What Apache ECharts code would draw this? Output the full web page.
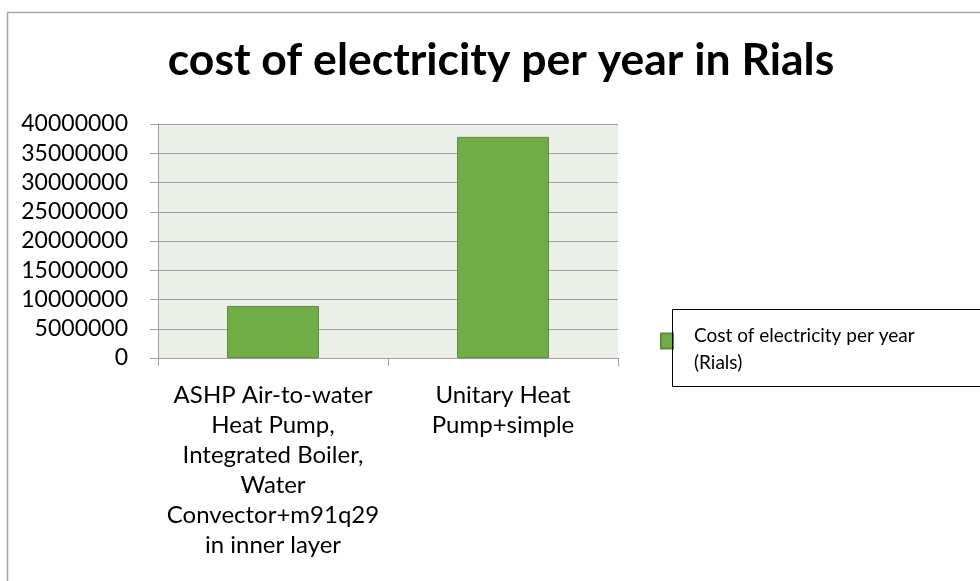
<!DOCTYPE html>
<html>
<head>
<meta charset="utf-8">
<script src="https://cdn.jsdelivr.net/npm/echarts@6/dist/echarts.min.js"></script>
<style>
  html, body { margin: 0; padding: 0; background: #ffffff; }
  #chart { width: 980px; height: 581px; }
</style>
</head>
<body>
<div id="chart"></div>
<script>
// Chart data
const titleText = 'cost of electricity per year in Rials';
const seriesName = 'Cost of electricity per year (Rials)';
const categories = [
  'ASHP Air-to-water\nHeat Pump,\nIntegrated Boiler,\nWater\nConvector+m91q29\nin inner layer',
  'Unitary Heat\nPump+simple'
];
const costValues = [8900000, 37800000];
const yTicks = { min: 0, max: 40000000, interval: 5000000 };

const FONT = 'Lato, "Open Sans", sans-serif';

// Legend swatch sits beside the first text line: square at the top, an
// invisible point at the bottom keeps the icon box as tall as two lines.
const SWATCH_ICON = 'path://M0,0L12,0L12,15L0,15Z M0,31L0,31';

const chart = echarts.init(document.getElementById('chart'), null, { renderer: 'canvas' });

chart.setOption({
  backgroundColor: '#ffffff',
  animation: false,
  title: {
    text: titleText,
    left: 496,
    top: 33,
    textAlign: 'center',
    textStyle: {
      fontFamily: FONT,
      fontWeight: 'bold',
      fontSize: 44.5,
      color: '#000000'
    }
  },
  grid: {
    left: 158,
    right: 362,
    top: 124,
    bottom: 223,
    show: true,
    backgroundColor: '#EAEFE8',
    borderWidth: 0
  },
  legend: {
    left: 655,
    top: 317,
    itemWidth: 12,
    itemHeight: 31,
    icon: SWATCH_ICON,
    formatter: name => name.replace(' (', '\n('),
    textStyle: {
      fontFamily: FONT,
      fontSize: 19,
      lineHeight: 27,
      color: '#000000',
      padding: [0, 0, 0, 16]
    },
    data: [seriesName]
  },
  xAxis: {
    type: 'category',
    data: categories,
    axisLine: { show: true, lineStyle: { color: '#A0A0A0', width: 1 } },
    axisTick: { show: true, length: 8, alignWithLabel: false, lineStyle: { color: '#A0A0A0' } },
    axisLabel: {
      margin: 22,
      fontFamily: FONT,
      fontSize: 24,
      lineHeight: 30,
      color: '#000000',
      interval: 0,
      align: 'center'
    }
  },
  yAxis: {
    type: 'value',
    min: yTicks.min,
    max: yTicks.max,
    interval: yTicks.interval,
    axisLine: { show: true, lineStyle: { color: '#A0A0A0', width: 1 } },
    axisTick: { show: true, length: 8, lineStyle: { color: '#A0A0A0' } },
    splitLine: { show: true, lineStyle: { color: '#A0A0A0', width: 1 } },
    axisLabel: {
      margin: 30,
      fontFamily: FONT,
      fontSize: 23,
      color: '#000000',
      formatter: v => String(v)
    }
  },
  series: [{
    name: seriesName,
    type: 'bar',
    data: costValues,
    barCategoryGap: '60%',
    itemStyle: {
      color: '#70AD47',
      borderColor: '#5B8E3B',
      borderWidth: 1
    }
  }],
  graphic: [
    {
      // outer chart frame
      type: 'rect',
      z: -1,
      shape: { x: 7.5, y: 12.5, width: 1000, height: 600 },
      style: { fill: 'none', stroke: '#A6A6A6', lineWidth: 1.5 }
    },
    {
      // legend frame
      type: 'rect',
      z: 100,
      shape: { x: 672.5, y: 309.5, width: 320, height: 77 },
      style: { fill: 'none', stroke: '#000000', lineWidth: 1 }
    }
  ]
});
</script>
</body>
</html>
